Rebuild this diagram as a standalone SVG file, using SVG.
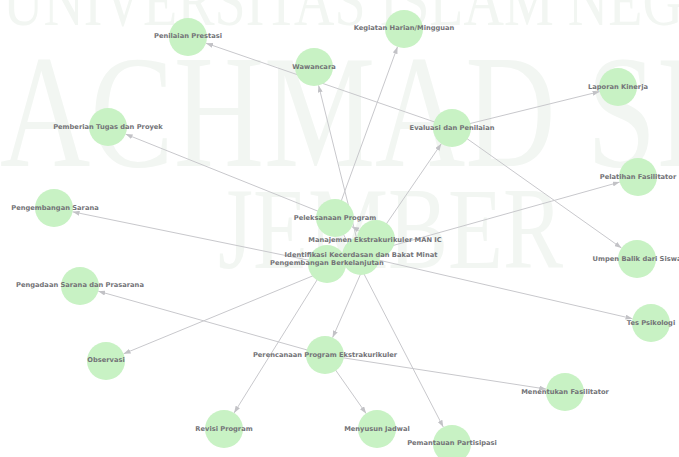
<svg xmlns="http://www.w3.org/2000/svg" width="679" height="457" viewBox="0 0 679 457">
  <defs>
    <marker id="arrow" viewBox="0 0 7 5" refX="7" refY="2.5" markerWidth="7" markerHeight="5" markerUnits="userSpaceOnUse" orient="auto">
      <path d="M0,0 L7,2.5 L0,5 z" fill="#c2c2c6"/>
    </marker>
  </defs>
  <style>
    .wm { font-family: "Liberation Serif", "DejaVu Serif", serif; fill: #f2f6f2; }
    .edge { stroke: #c8c8cc; stroke-width: 1; fill: none; marker-end: url(#arrow); }
    .node circle { fill: #c8f2c4; }
    .node text { font-family: "DejaVu Sans", "Liberation Sans", sans-serif; font-weight: bold; font-size: 6.7px; fill: #737377; text-anchor: middle; }
  </style>

  <rect width="679" height="457" fill="#ffffff"/>

  <!-- faint background watermark -->
  <g id="watermark">
    <text class="wm" transform="translate(3,25) scale(1,1.3)" font-size="56">UNIVERSITAS ISLAM NEGERI</text>
    <text class="wm" transform="translate(0,166) scale(1,1.28)" font-size="125">ACHMAD SIDDIQ</text>
    <text class="wm" transform="translate(218,268) scale(1,1.3)" font-size="90">JEMBER</text>
  </g>

  <!-- connectors: source centre to target boundary -->
  <g id="edges">
    <line class="edge" x1="376" y1="239" x2="332.6" y2="337.6"/>
    <line class="edge" x1="376" y1="239" x2="351.9" y2="226.7"/>
    <line class="edge" x1="376" y1="239" x2="441.3" y2="143.7"/>
    <line class="edge" x1="376" y1="239" x2="373.6" y2="241.8"/>
    <line class="edge" x1="376" y1="239" x2="343.9" y2="255.4"/>
    <line class="edge" x1="325" y1="355" x2="366.1" y2="413.5"/>
    <line class="edge" x1="325" y1="355" x2="546.2" y2="389.1"/>
    <line class="edge" x1="325" y1="355" x2="98.3" y2="291.2"/>
    <line class="edge" x1="335" y1="218" x2="397.5" y2="46.8"/>
    <line class="edge" x1="335" y1="218" x2="125.6" y2="134.1"/>
    <line class="edge" x1="335" y1="218" x2="443.3" y2="427.1"/>
    <line class="edge" x1="452" y1="128" x2="206" y2="43.2"/>
    <line class="edge" x1="452" y1="128" x2="599.6" y2="91.6"/>
    <line class="edge" x1="452" y1="128" x2="621.5" y2="248"/>
    <line class="edge" x1="361" y1="256" x2="632.5" y2="318.7"/>
    <line class="edge" x1="361" y1="256" x2="318.6" y2="85.4"/>
    <line class="edge" x1="361" y1="256" x2="123.6" y2="353.8"/>
    <line class="edge" x1="327" y1="264" x2="619.7" y2="182.1"/>
    <line class="edge" x1="327" y1="264" x2="72.6" y2="211.8"/>
    <line class="edge" x1="327" y1="264" x2="234.1" y2="412.9"/>
  </g>

  <!-- node discs -->
  <g id="n-manajemen" class="node"><circle cx="376" cy="239" r="19"/></g>
  <g id="n-perencanaan" class="node"><circle cx="325" cy="355" r="19"/></g>
  <g id="n-pelaksanaan" class="node"><circle cx="335" cy="218" r="19"/></g>
  <g id="n-evaluasi" class="node"><circle cx="452" cy="128" r="19"/></g>
  <g id="n-identifikasi" class="node"><circle cx="361" cy="256" r="19"/></g>
  <g id="n-pengembangan" class="node"><circle cx="327" cy="264" r="19"/></g>
  <g id="n-jadwal" class="node"><circle cx="377" cy="429" r="19"/></g>
  <g id="n-fasilitator" class="node"><circle cx="565" cy="392" r="19"/></g>
  <g id="n-pengadaan" class="node"><circle cx="80" cy="286" r="19"/></g>
  <g id="n-kegiatan" class="node"><circle cx="404" cy="29" r="19"/></g>
  <g id="n-tugas" class="node"><circle cx="108" cy="127" r="19"/></g>
  <g id="n-pemantauan" class="node"><circle cx="452" cy="444" r="19"/></g>
  <g id="n-prestasi" class="node"><circle cx="188" cy="37" r="19"/></g>
  <g id="n-laporan" class="node"><circle cx="618" cy="87" r="19"/></g>
  <g id="n-umpan" class="node"><circle cx="637" cy="259" r="19"/></g>
  <g id="n-tes" class="node"><circle cx="651" cy="323" r="19"/></g>
  <g id="n-wawancara" class="node"><circle cx="314" cy="67" r="19"/></g>
  <g id="n-observasi" class="node"><circle cx="106" cy="361" r="19"/></g>
  <g id="n-pelatihan" class="node"><circle cx="638" cy="177" r="19"/></g>
  <g id="n-sarana" class="node"><circle cx="54" cy="208" r="19"/></g>
  <g id="n-revisi" class="node"><circle cx="224" cy="429" r="19"/></g>

  <!-- labels on top of all discs -->
  <g id="labels" class="node">
    <text x="375" y="240" dy="0.35em">Manajemen Ekstrakurikuler MAN IC</text>
    <text x="325" y="355" dy="0.35em">Perencanaan Program Ekstrakurikuler</text>
    <text x="335" y="218" dy="0.35em">Peleksanaan Program</text>
    <text x="452" y="128" dy="0.35em">Evaluasi dan Penilaian</text>
    <text x="361" y="255" dy="0.35em">Identifikasi Kecerdasan dan Bakat Minat</text>
    <text x="327" y="263" dy="0.35em">Pengembangan Berkelanjutan</text>
    <text x="377" y="429" dy="0.35em">Menyusun Jadwal</text>
    <text x="565" y="392" dy="0.35em">Menentukan Fasilitator</text>
    <text x="80" y="285" dy="0.35em">Pengadaan Sarana dan Prasarana</text>
    <text x="404" y="28" dy="0.35em">Kegiatan Harian/Mingguan</text>
    <text x="108" y="127" dy="0.35em">Pemberian Tugas dan Proyek</text>
    <text x="452" y="443" dy="0.35em">Pemantauan Partisipasi</text>
    <text x="188" y="36" dy="0.35em">Penilaian Prestasi</text>
    <text x="618" y="87" dy="0.35em">Laporan Kinerja</text>
    <text x="637" y="259" dy="0.35em">Umpen Balik dari Siswa</text>
    <text x="651" y="323" dy="0.35em">Tes Psikologi</text>
    <text x="314" y="67" dy="0.35em">Wawancara</text>
    <text x="106" y="360" dy="0.35em">Observasi</text>
    <text x="638" y="177" dy="0.35em">Pelatihan Fasilitator</text>
    <text x="55" y="208" dy="0.35em">Pengembangan Sarana</text>
    <text x="224" y="429" dy="0.35em">Revisi Program</text>
  </g>
</svg>
